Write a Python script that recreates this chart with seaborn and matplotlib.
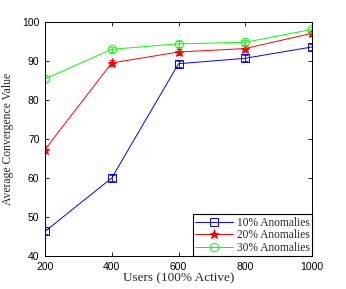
import matplotlib
matplotlib.use("Agg")
import matplotlib.pyplot as plt
import numpy as np
import pandas as pd
import seaborn as sns

users = [200, 400, 600, 800, 1000]
series_names = ["10% Anomalies", "20% Anomalies", "30% Anomalies"]
anom_10 = [46.3, 60.0, 89.3, 90.7, 93.6]
anom_20 = [67.3, 89.5, 92.3, 93.2, 97.1]
anom_30 = [85.4, 93.0, 94.4, 94.8, 98.1]
err_10 = [0.7, 0.8, 0.8, 0.8, 0.7]
err_20 = [0.8, 0.8, 0.8, 0.7, 0.6]
err_30 = [0.6, 0.7, 0.7, 0.7, 0.7]

colors = ["#0000ff", "#ff0000", "#00ff00"]
markers = ["s", "*", "o"]

df = pd.DataFrame(
    {
        "users": users * 3,
        "value": anom_10 + anom_20 + anom_30,
        "err": err_10 + err_20 + err_30,
        "series": [s for s in series_names for _ in users],
    }
)

sns.set_style("ticks")
plt.rcParams["font.family"] = ["Liberation Sans", "DejaVu Sans"]

fig = plt.figure(figsize=(3.46, 2.89), dpi=100)
ax = fig.add_axes([45 / 346, 33 / 289, 267 / 346, 234 / 289])

for name, col, mk in zip(series_names, colors, markers):
    sub = df[df["series"] == name]
    ax.errorbar(sub["users"], sub["value"], yerr=sub["err"], fmt="none",
                ecolor=col, elinewidth=0.6, capsize=2.5, capthick=0.6)
    sns.lineplot(data=sub, x="users", y="value", ax=ax, color=col,
                 marker=mk, markersize=6 if mk != "*" else 6.5,
                 markerfacecolor="none" if mk != "*" else col,
                 markeredgecolor=col, markeredgewidth=0.7,
                 linewidth=0.7, label=name)

ax.set_xlim(200, 1000)
ax.set_ylim(40, 100)
ax.set_xticks(users)
ax.set_yticks(np.arange(40, 101, 10))
ax.tick_params(direction="in", top=True, right=True, length=3, width=0.6,
               labelsize=7.5, colors="black")
ax.tick_params(axis="x", pad=4.5)
ax.tick_params(axis="y", pad=4)
for sp in ax.spines.values():
    sp.set_linewidth(0.7)
    sp.set_color("black")
    sp.set_visible(True)

ax.set_xlabel("Users (100% Active)", family="Liberation Serif", fontsize=9.5, labelpad=0)
ax.set_ylabel("Average Convergence Value", family="Liberation Serif", fontsize=8.4, labelpad=6)

leg = ax.legend(loc="lower right", prop={"family": "Liberation Serif", "size": 8.3},
                frameon=True, fancybox=False, edgecolor="black", framealpha=1,
                borderaxespad=0, handlelength=3.3, handletextpad=0.3,
                borderpad=0.2, labelspacing=0.05)
leg.get_frame().set_linewidth(0.8)

fig.savefig("out.png", dpi=100)
